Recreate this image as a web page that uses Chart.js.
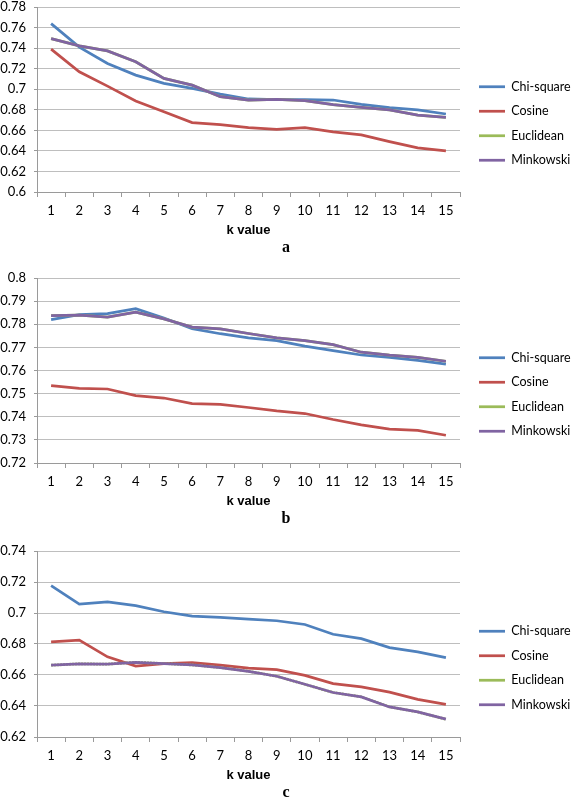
<!DOCTYPE html>
<html>
<head>
<meta charset="utf-8">
<script src="https://cdn.jsdelivr.net/npm/chart.js@4.4.1/dist/chart.umd.min.js"></script>
<style>
  html, body { margin: 0; padding: 0; background: #fff; }
  #wrap { position: relative; width: 572px; height: 803px; overflow: hidden; }
  canvas { position: absolute; left: 0; }
</style>
</head>
<body>
<div id="wrap">
  <canvas id="chartA" width="572" height="256" style="top:0px"></canvas>
  <canvas id="chartB" width="572" height="256" style="top:271px"></canvas>
  <canvas id="chartC" width="572" height="257" style="top:544px"></canvas>
</div>
<script>
// --- data ---
const kValues = [1, 2, 3, 4, 5, 6, 7, 8, 9, 10, 11, 12, 13, 14, 15];
const seriesNames = ['Chi-square', 'Cosine', 'Euclidean', 'Minkowski'];
const seriesColors = ['#4F81BD', '#C0504D', '#9BBB59', '#8064A2'];

// panel a
const chiA  = [0.7638, 0.741, 0.725, 0.7137, 0.7057, 0.7008, 0.6953, 0.6905, 0.690, 0.690, 0.6895, 0.6853, 0.682, 0.680, 0.6759];
const cosA  = [0.739, 0.717, 0.703, 0.6885, 0.678, 0.6675, 0.6656, 0.6627, 0.661, 0.6627, 0.6585, 0.6556, 0.649, 0.643, 0.640];
const eucA  = [0.7493, 0.7422, 0.7373, 0.7267, 0.7105, 0.704, 0.6927, 0.6895, 0.690, 0.689, 0.685, 0.6824, 0.680, 0.6749, 0.6727];
const minA  = [0.7493, 0.7422, 0.7373, 0.7267, 0.7105, 0.704, 0.6927, 0.6895, 0.690, 0.689, 0.685, 0.6824, 0.680, 0.6749, 0.6727];
const yTicksA = [0.6, 0.62, 0.64, 0.66, 0.68, 0.7, 0.72, 0.74, 0.76, 0.78];

// panel b
const chiB  = [0.782, 0.7842, 0.7846, 0.7867, 0.7827, 0.7781, 0.7759, 0.7741, 0.7729, 0.7705, 0.7686, 0.7667, 0.7657, 0.7644, 0.7628];
const cosB  = [0.7535, 0.7523, 0.752, 0.7491, 0.7481, 0.7457, 0.7454, 0.744, 0.7425, 0.7414, 0.7388, 0.7365, 0.7347, 0.7341, 0.732];
const eucB  = [0.7837, 0.7839, 0.7831, 0.7852, 0.7823, 0.7788, 0.778, 0.776, 0.7741, 0.7729, 0.7712, 0.7679, 0.7666, 0.7657, 0.764];
const minB  = [0.7837, 0.7839, 0.7831, 0.7852, 0.7823, 0.7788, 0.778, 0.776, 0.7741, 0.7729, 0.7712, 0.7679, 0.7666, 0.7657, 0.764];
const yTicksB = [0.72, 0.73, 0.74, 0.75, 0.76, 0.77, 0.78, 0.79, 0.8];

// panel c
const chiC  = [0.7176, 0.7057, 0.7072, 0.7047, 0.7008, 0.698, 0.6971, 0.696, 0.695, 0.6926, 0.6863, 0.6835, 0.6777, 0.6749, 0.6712];
const cosC  = [0.6814, 0.6825, 0.6717, 0.6657, 0.6674, 0.668, 0.6663, 0.6644, 0.6635, 0.6598, 0.6544, 0.6523, 0.649, 0.6443, 0.6411];
const eucC  = [0.6663, 0.6672, 0.667, 0.6682, 0.6674, 0.6665, 0.6648, 0.6624, 0.6592, 0.654, 0.6487, 0.6459, 0.6394, 0.6362, 0.6315];
const minC  = [0.6663, 0.6672, 0.667, 0.6682, 0.6674, 0.6665, 0.6648, 0.6624, 0.6592, 0.654, 0.6487, 0.6459, 0.6394, 0.6362, 0.6315];
const yTicksC = [0.62, 0.64, 0.66, 0.68, 0.7, 0.72, 0.74];

const gridColor = '#BEBEBE';
const axisColor = '#9A9A9A';

// move legend a bit right/up of where chart.js puts it (excel-ish spacing)
const legendShift = {
    id: 'legendShift',
    afterLayout(chart) {
        const lg = chart.legend;
        if (!lg) return;
        lg.left += 7;
        lg.top -= 8;
        lg.bottom -= 8;
    }
};

function makeChart(id, panel, series, yTicks, dashEuclid) {
    const datasets = series.map((vals, i) => ({
        label: seriesNames[i],
        data: vals,
        borderColor: seriesColors[i],
        backgroundColor: seriesColors[i],
        borderWidth: 2.75,
        borderDash: (dashEuclid && i === 2) ? [2, 1] : [],
        pointRadius: 0,
        tension: 0,
        fill: false,
        order: 4 - i   // later series drawn on top, Minkowski hides Euclidean
    }));

    return new Chart(document.getElementById(id), {
        type: 'line',
        data: { labels: kValues, datasets: datasets },
        plugins: [legendShift],
        options: {
            responsive: false,
            animation: false,
            layout: { padding: { top: 7, right: 0, left: 0, bottom: 0 } },
            plugins: {
                legend: {
                    position: 'right',
                    maxWidth: 112,
                    labels: {
                        usePointStyle: true,
                        pointStyle: 'line',
                        pointStyleWidth: 26,
                        padding: 12,
                        color: '#000',
                        font: { family: 'Lato', size: 12.5 },
                        sort: (a, b) => a.datasetIndex - b.datasetIndex
                    }
                },
                title: {
                    display: true,
                    position: 'bottom',
                    text: panel,
                    color: '#000',
                    font: { family: 'Liberation Serif', size: 16, weight: 'bold', lineHeight: 1 },
                    padding: { top: 0, bottom: 0 }
                },
                tooltip: { enabled: false }
            },
            scales: {
                x: {
                    offset: true,
                    grid: { offset: true, drawOnChartArea: false, tickLength: 5, color: axisColor },
                    border: { color: axisColor },
                    ticks: { color: '#000', padding: 6, font: { family: 'Lato', size: 13 }, maxRotation: 0 },
                    title: {
                        display: true,
                        text: 'k value',
                        color: '#000',
                        font: { family: 'Liberation Sans', size: 13, weight: 'bold' },
                        padding: { top: 0, bottom: 2 }
                    },
                    afterFit: s => { s.height = 48; }
                },
                y: {
                    min: yTicks[0],
                    max: yTicks[yTicks.length - 1],
                    afterBuildTicks: s => { s.ticks = yTicks.map(v => ({ value: v })); },
                    grid: { color: gridColor, tickLength: 3, tickColor: axisColor },
                    border: { color: axisColor },
                    ticks: {
                        color: '#000',
                        padding: 8,
                        font: { family: 'Lato', size: 13 },
                        callback: v => String(Number(v.toFixed(2)))
                    },
                    afterFit: s => { s.width = 37; s.paddingTop = 0; s.paddingBottom = 0; }
                }
            }
        }
    });
}

makeChart('chartA', 'a', [chiA, cosA, eucA, minA], yTicksA, false);
makeChart('chartB', 'b', [chiB, cosB, eucB, minB], yTicksB, false);
makeChart('chartC', 'c', [chiC, cosC, eucC, minC], yTicksC, true);
</script>
</body>
</html>
